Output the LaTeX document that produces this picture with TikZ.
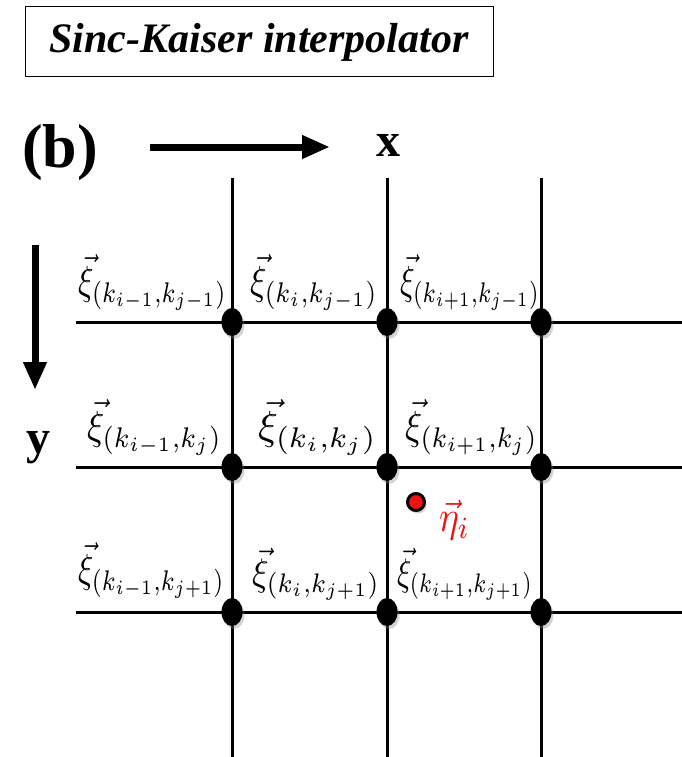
\documentclass[tikz,border=0pt]{standalone}
\usepackage{graphicx}
\usepackage{fontspec}
\setmainfont{Liberation Serif}
\usetikzlibrary{shadows,arrows.meta,shapes.geometric}
\definecolor{dotred}{RGB}{235,20,20}
% formula squeezed into a box of given width and total height
\newcommand{\fitlbl}[3]{\resizebox*{#1pt}{#2pt}{$#3$}}
\tikzset{
  gridline/.style={line width=3pt, black},
  knot/.style={ellipse, fill=black, minimum width=21pt, minimum height=28pt, inner sep=0pt,
    drop shadow={shadow xshift=2pt, shadow yshift=-3pt, opacity=0.35}},
  lbl/.style={anchor=north west, inner sep=0pt, outer sep=0pt},
  axisarrow/.style={line width=7pt, -{Triangle[length=28pt,width=22pt]}},
  axislbl/.style={font=\fontsize{48}{52}\selectfont\bfseries, inner sep=0pt},
}
\begin{document}
\begin{tikzpicture}[x=1pt,y=-1pt]
\useasboundingbox (0,0) rectangle (682,757);
% title box
\node[draw, line width=1pt, minimum width=468pt, minimum height=70pt, inner sep=0pt,
      font=\fontsize{42}{46}\selectfont\bfseries\itshape] (title) at (259,42) {Sinc-Kaiser interpolator};
% panel tag and axes
\node[axislbl, font=\fontsize{62}{66}\selectfont\bfseries] (tag) at (60,153) {(b)};
\coordinate (ax0) at (150,147);
\coordinate (ax1) at (330,147);
\draw[axisarrow] (ax0) -- (ax1);
\node[axislbl] (xl) at (388,145) {x};
\coordinate (ay0) at (35,245);
\coordinate (ay1) at (35,390);
\draw[axisarrow] (ay0) -- (ay1);
\node[axislbl] (yl) at (38,448) {y};
% grid ends
\foreach \c/\x in {a/232,b/387,c/541}{
  \coordinate (\c top) at (\x,178);
  \coordinate (\c bot) at (\x,757);
}
\foreach \r/\y in {1/322,2/467,3/612}{
  \coordinate (r\r left) at (76,\y);
  \coordinate (r\r right) at (682,\y);
}
\foreach \c in {a,b,c} \draw[gridline] (\c top) -- (\c bot);
\foreach \r in {1,2,3} \draw[gridline] (r\r left) -- (r\r right);
% grid knots
\foreach \c/\x in {a/232,b/387,c/541}
  \foreach \r/\y in {1/322,2/467,3/612}
    \node[knot] (k\c\r) at (\x,\y) {};
% knot labels
\node[lbl] (l11) at (78,255)  {\fitlbl{149}{55}{\vec{\xi}_{(k_{i-1},k_{j-1})}}};
\node[lbl] (l21) at (250,255) {\fitlbl{128}{55}{\vec{\xi}_{(k_i,k_{j-1})}}};
\node[lbl] (l31) at (400,255) {\fitlbl{140}{55}{\vec{\xi}_{(k_{i+1},k_{j-1})}}};
\node[lbl] (l12) at (87,400)  {\fitlbl{135}{55}{\vec{\xi}_{(k_{i-1},k_j)}}};
\node[lbl] (l22) at (258,400) {\fitlbl{119}{55}{\vec{\xi}_{(k_i,k_j)}}};
\node[lbl] (l32) at (405,400) {\fitlbl{133}{55}{\vec{\xi}_{(k_{i+1},k_j)}}};
\node[lbl] (l13) at (78,543)  {\fitlbl{147}{55}{\vec{\xi}_{(k_{i-1},k_{j+1})}}};
\node[lbl] (l23) at (252,548) {\fitlbl{128}{52}{\vec{\xi}_{(k_i,k_{j+1})}}};
\node[lbl] (l33) at (397,548) {\fitlbl{136}{52}{\vec{\xi}_{(k_{i+1},k_{j+1})}}};
% sample point
\node[circle, fill=dotred, draw=black, line width=3pt, minimum size=17pt, inner sep=0pt,
      drop shadow={shadow xshift=2pt, shadow yshift=-3pt, opacity=0.35}] (eta) at (416,502) {};
\node[lbl, text=dotred] (etal) at (439,500) {\fitlbl{31}{40}{\vec{\eta}_i}};
\end{tikzpicture}
\end{document}
